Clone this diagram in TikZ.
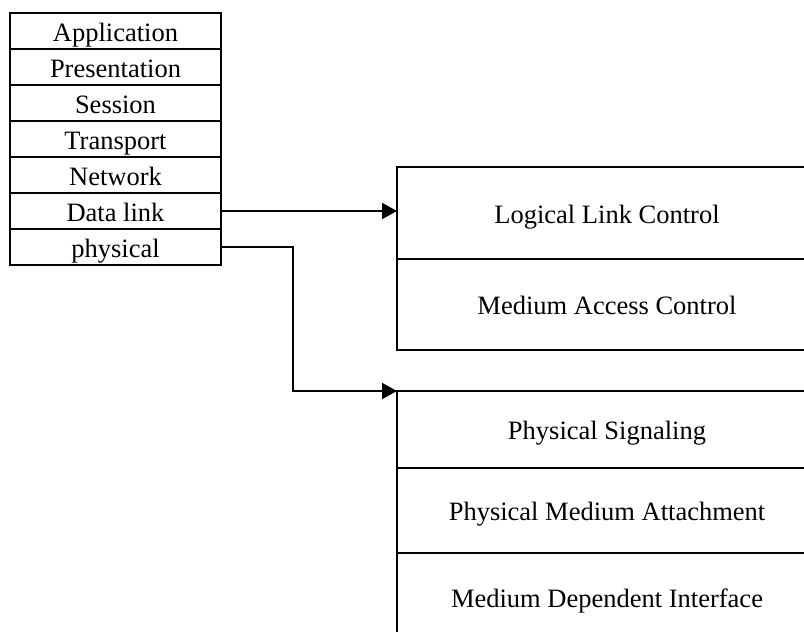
\documentclass[tikz,border=0pt]{standalone}
\usepackage{fontspec}
\setmainfont{Liberation Serif}
\usetikzlibrary{arrows.meta}
\tikzset{
  boxtext/.style={font=\fontsize{26.5}{30}\selectfont, text height=20pt, text depth=0pt},
  layer/.style={draw, line width=2pt, rectangle, inner sep=0pt, outer sep=0pt,
    minimum width=211pt, minimum height=36pt, anchor=north west, boxtext},
  sublayer/.style={draw, line width=2pt, rectangle, inner sep=0pt, outer sep=0pt,
    minimum width=420pt, anchor=north west, boxtext},
  link/.style={line width=2pt, -{Triangle[length=15pt,width=16pt]}},
}
\begin{document}
\begin{tikzpicture}[x=1pt,y=1pt]
\useasboundingbox (0,0) rectangle (804,-632);
\begin{scope}
\clip (0,0) rectangle (804,-632);
% OSI reference stack
\node[layer] (app) at (10,-13)  {Application};
\node[layer] (pre) at (10,-49)  {Presentation};
\node[layer] (ses) at (10,-85)  {Session};
\node[layer] (tra) at (10,-121) {Transport};
\node[layer] (net) at (10,-157) {Network};
\node[layer] (dl)  at (10,-193) {Data link};
\node[layer] (ph)  at (10,-229) {physical};
% data link sublayers
\node[sublayer, minimum height=92pt] (llc) at (397,-167) {Logical Link Control};
\node[sublayer, minimum height=91pt] (mac) at (397,-259) {Medium Access Control};
% physical sublayers
\node[sublayer, minimum height=77pt] (ps)  at (397,-391) {Physical Signaling};
\node[sublayer, minimum height=85pt] (pma) at (397,-468) {Physical Medium Attachment};
\node[sublayer, minimum height=88pt] (mdi) at (397,-553) {Medium Dependent Interface};
% connectors
\draw[link] (dl.east) -- (dl.east -| llc.west);
\draw[link] (ph.east) -- ++(72,0) |- (ps.north west);
\end{scope}
\end{tikzpicture}
\end{document}
